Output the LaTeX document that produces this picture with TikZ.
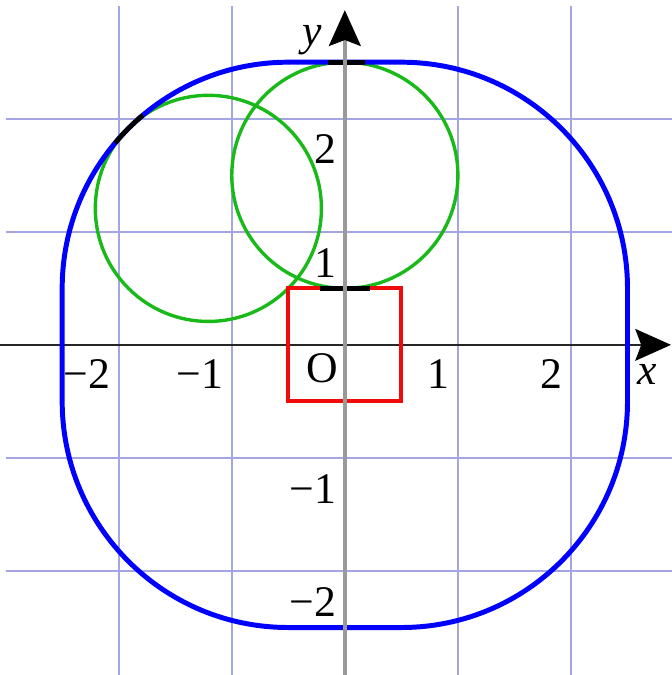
\documentclass[tikz,border=0pt]{standalone}
\usepackage{fontspec}
\setmainfont{Liberation Serif}
\usetikzlibrary{arrows.meta}
\definecolor{gridlav}{RGB}{165,165,228}
\definecolor{curveblue}{RGB}{0,0,255}
\definecolor{circgreen}{RGB}{25,185,25}
\definecolor{sqred}{RGB}{240,10,10}

\begin{document}
\begin{tikzpicture}[
    every node/.style={font=\fontsize{11}{13}\selectfont, inner sep=0pt},
    gridline/.style={draw=gridlav, line width=0.6pt},
    axisline/.style={-{Stealth[length=9pt, width=8pt, inset=1.5pt, color=black]}},
    offsetcurve/.style={draw=curveblue, line width=1.25pt},
    rollcircle/.style={draw=circgreen, line width=0.85pt},
    unitsquare/.style={draw=sqred, line width=1.05pt},
    contact/.style={draw=black, line width=1.2pt},
    ticklabel/.style={anchor=base east},
  ]
  \useasboundingbox (-3.05,-2.92) rectangle (2.885,3.05);

  % Cuadricula
  \foreach \k in {-2,-1,1,2} {
    \draw[gridline] (\k,-3) -- (\k,3);
    \draw[gridline] (-3,\k) -- (3,\k);
  }

  % Eje x
  \coordinate (xstart) at (-3.05,0);
  \coordinate (xend)   at (2.885,0);
  \draw[axisline, black!85, line width=0.6pt] (xstart) -- (xend);

  % Circunferencias verdes
  \draw[rollcircle] (-1.2071,1.2071) circle[radius=1];
  \draw[rollcircle] (0,1.5) circle[radius=1];

  % Cuadrado
  \draw[unitsquare] (-0.5,-0.5) rectangle (0.5,0.5);

  % Curva paralela
  \draw[offsetcurve] (-0.5,2.5) -- (0.5,2.5)
    arc[start angle=90, end angle=0, radius=2] -- (2.5,-0.5)
    arc[start angle=0, end angle=-90, radius=2] -- (-0.5,-2.5)
    arc[start angle=-90, end angle=-180, radius=2] -- (-2.5,0.5)
    arc[start angle=180, end angle=90, radius=2] -- cycle;

  % Puntos de contacto
  \draw[contact] (-0.22,0.5) -- (0.22,0.5);
  \draw[contact] (-0.15,2.5) -- (0.18,2.5);
  \draw[contact] ([shift={(130:2)}]-0.5,0.5) arc[start angle=130, end angle=140, radius=2];

  % Eje y
  \coordinate (ystart) at (0,-2.92);
  \coordinate (yend)   at (0,2.96);
  \draw[axisline, black!40, line width=0.9pt] (ystart) -- (yend);

  % Etiquetas
  \node[ticklabel] (xm2) at (-2.07,-0.39) {−2};
  \node[ticklabel] (xm1) at (-1.07,-0.39) {−1};
  \node[ticklabel] (xp1) at (0.93,-0.39)  {1};
  \node[ticklabel] (xp2) at (1.93,-0.39)  {2};
  \node[ticklabel] (ym2) at (-0.07,-2.4)  {−2};
  \node[ticklabel] (ym1) at (-0.07,-1.4)  {−1};
  \node[ticklabel] (yp1) at (-0.07,0.6)   {1};
  \node[ticklabel] (yp2) at (-0.07,1.6)   {2};
  \node[ticklabel] (orig) at (-0.05,-0.33) {O};
  \node[anchor=base west] (xlab) at (2.58,-0.35) {\textit{x}};
  \node[anchor=base west] (ylab) at (-0.38,2.65) {\textit{y}};

\end{tikzpicture}
\end{document}
